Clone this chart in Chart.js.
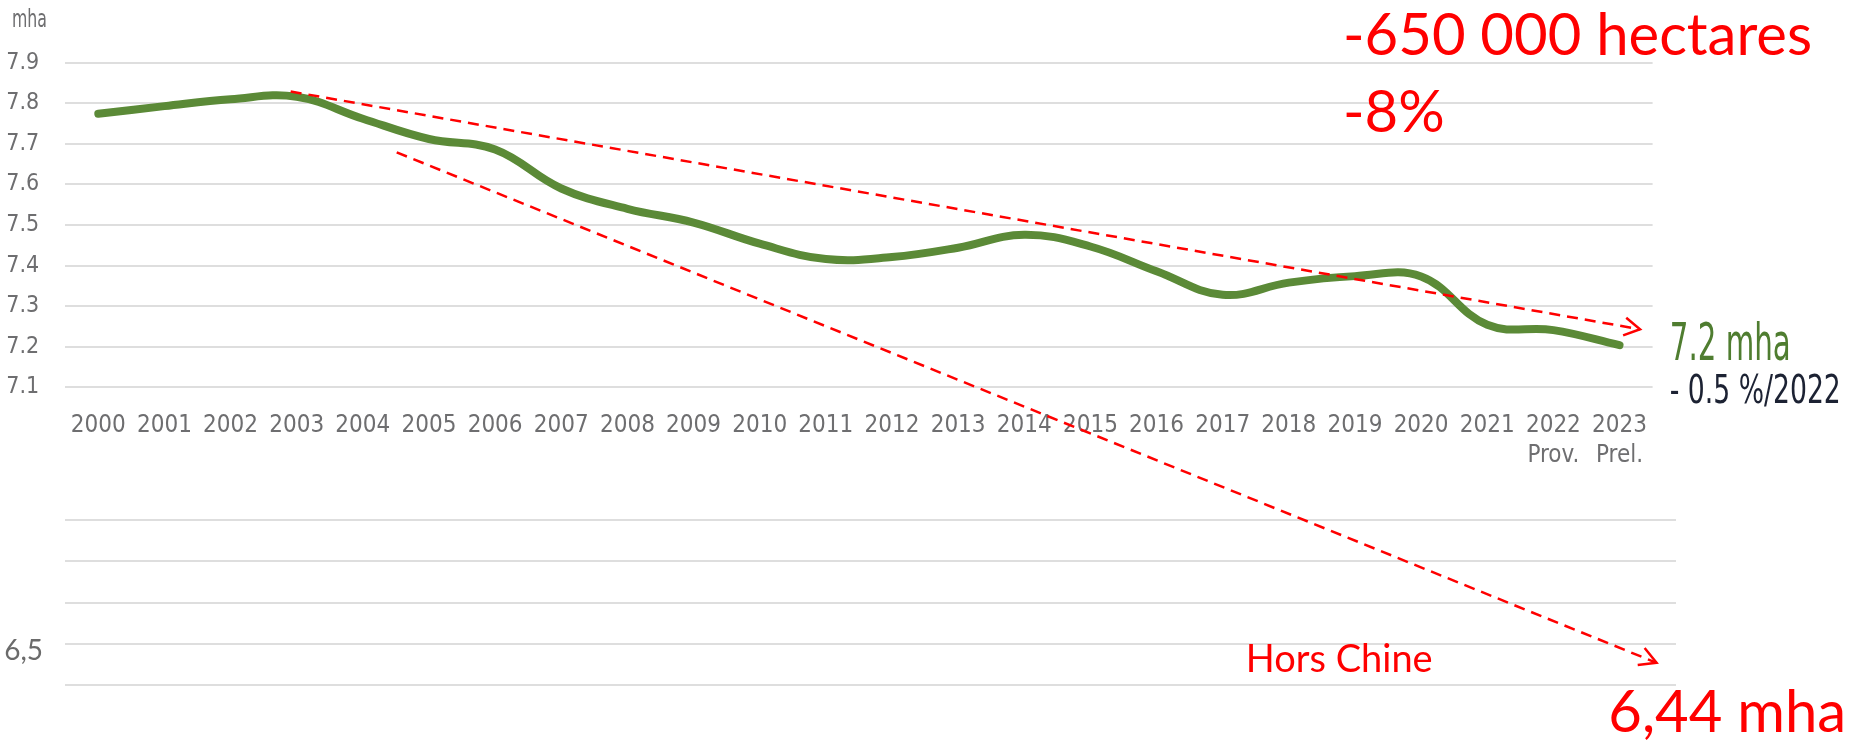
<!DOCTYPE html>
<html>
<head>
<meta charset="utf-8">
<script src="https://cdn.jsdelivr.net/npm/chart.js@4/dist/chart.umd.min.js"></script>
<style>
html, body { margin: 0; padding: 0; background: #ffffff; }
#wrap { position: relative; width: 1864px; height: 743px; overflow: hidden; }
#wrap canvas { position: absolute; left: 0; top: 0; }
</style>
</head>
<body>
<div id="wrap">
  <canvas id="low" width="1864" height="743"></canvas>
  <canvas id="main" width="1864" height="743"></canvas>
</div>
<script>
// ---------------- data ----------------
const years = ['2000','2001','2002','2003','2004','2005','2006','2007','2008','2009','2010','2011',
               '2012','2013','2014','2015','2016','2017','2018','2019','2020','2021','2022','2023'];
const yearNotes = ['','','','','','','','','','','','','','','','','','','','','','','Prov.','Prel.'];
const areaMha = [7.774, 7.793, 7.810, 7.816, 7.762, 7.712, 7.686, 7.590, 7.540, 7.506, 7.454, 7.416,
                 7.421, 7.444, 7.476, 7.447, 7.386, 7.328, 7.358, 7.374, 7.373, 7.254, 7.241, 7.204];
const yTicks = [7.1, 7.2, 7.3, 7.4, 7.5, 7.6, 7.7, 7.8, 7.9];
const yTickLabels = ['7.1', '7.2', '7.3', '7.4', '7.5', '7.6', '7.7', '7.8', '7.9'];
const lowTicks = [6.4, 6.5, 6.6, 6.7, 6.8];
const lowTickLabels = ['', '6,5', '', '', ''];
const unitLabel = 'mha';

// trend arrows, in (category index, mha)
const trendWorld = { from: [2.909, 7.829], to: [23.31, 7.243] };
const trendExChina = { from: [4.512, 7.679], to: [23.56, 6.421] };

// texts: [text, category index, mha (baseline)]
const redNotes = [
  ['-650 000 hectares', 18.82, 7.919],
  ['-8%', 18.82, 7.729],
  ['Hors Chine', 17.35, 6.398],
  ['6,44 mha', 22.83, 6.250]
];
const endLabel = ['7.2 mha', 23.76, 7.167];
const endChange = ['- 0.5 %/2022', 23.76, 7.061];

// ---------------- styles ----------------
const COND = "'Liberation Sans Narrow', 'DejaVu Sans Condensed', 'Roboto', sans-serif";
const GRID = '#dedede';
const TICK = '#6e6e70';
const GREEN = '#5b8a37';

const labels = years.map((y, i) => yearNotes[i] ? [y, yearNotes[i]] : y);

function drawText(ctx, text, x, y, font, color, scaleX) {
  ctx.save();
  ctx.font = font;
  ctx.fillStyle = color;
  ctx.textAlign = 'left';
  ctx.textBaseline = 'alphabetic';
  ctx.translate(x, y);
  ctx.scale(scaleX || 1, 1);
  ctx.fillText(text, 0, 0);
  ctx.restore();
}

function drawArrow(ctx, x1, y1, x2, y2, head, angleDeg) {
  ctx.save();
  ctx.strokeStyle = '#ff0000';
  ctx.lineWidth = 2.5;
  ctx.setLineDash([11, 7]);
  ctx.beginPath();
  ctx.moveTo(x1, y1);
  ctx.lineTo(x2, y2);
  ctx.stroke();
  ctx.setLineDash([]);
  const a = Math.atan2(y2 - y1, x2 - x1);
  const h = angleDeg * Math.PI / 180;
  ctx.beginPath();
  ctx.moveTo(x2 - head * Math.cos(a - h), y2 - head * Math.sin(a - h));
  ctx.lineTo(x2, y2);
  ctx.lineTo(x2 - head * Math.cos(a + h), y2 - head * Math.sin(a + h));
  ctx.stroke();
  ctx.restore();
}

const annotations = {
  id: 'annotations',
  afterDatasetsDraw(chart) {
    const ctx = chart.ctx;
    const xs = chart.scales.x, ys = chart.scales.y;
    const px = v => xs.getPixelForValue(v);
    const py = v => ys.getPixelForValue(v);

    // unit label
    ctx.save();
    ctx.font = '25px ' + COND;
    const wu = ctx.measureText(unitLabel).width;
    ctx.restore();
    drawText(ctx, unitLabel, px(-1.305), py(7.988), '25px ' + COND, TICK, 35 / wu);

    // arrows
    drawArrow(ctx, px(trendWorld.from[0]), py(trendWorld.from[1]), px(trendWorld.to[0]), py(trendWorld.to[1]), 18, 30);
    drawArrow(ctx, px(trendExChina.from[0]), py(trendExChina.from[1]), px(trendExChina.to[0]), py(trendExChina.to[1]), 19, 29);

    // red notes
    redNotes.forEach(([t, i, v]) => {
      const size = t === 'Hors Chine' ? 38 : 58;
      drawText(ctx, t, px(i), py(v), size + 'px Lato', '#ff0000', 1);
    });

    // end labels (condensed)
    ctx.save();
    ctx.font = '51px ' + COND;
    const w1 = ctx.measureText(endLabel[0]).width;
    ctx.font = '39px ' + COND;
    const w2 = ctx.measureText(endChange[0]).width;
    ctx.restore();
    drawText(ctx, endLabel[0], px(endLabel[1]), py(endLabel[2]), '51px ' + COND, '#4f7d30', 121 / w1);
    drawText(ctx, endChange[0], px(endChange[1]), py(endChange[2]), '39px ' + COND, '#1c2233', 171 / w2);
  }
};

// lower (extended) grid panel
new Chart(document.getElementById('low'), {
  type: 'line',
  data: { labels: labels, datasets: [] },
  options: {
    responsive: false,
    animation: false,
    devicePixelRatio: 1,
    layout: { padding: { top: 520, right: 188, bottom: 58, left: 0 } },
    plugins: { legend: { display: false }, tooltip: { enabled: false } },
    scales: {
      x: { display: false },
      y: {
        min: 6.4, max: 6.8,
        afterBuildTicks: s => { s.ticks = lowTicks.map(v => ({ value: v })); },
        afterFit: s => { s.width = 65; },
        border: { display: false },
        grid: { color: GRID, lineWidth: 2, drawTicks: false },
        ticks: {
          callback: (v, i) => lowTickLabels[i],
          color: '#6b6b6b',
          font: { family: 'Lato', size: 28 },
          padding: 22,
          labelOffset: 7
        }
      }
    }
  }
});

// main chart
new Chart(document.getElementById('main'), {
  type: 'line',
  data: {
    labels: labels,
    datasets: [{
      data: areaMha,
      borderColor: GREEN,
      borderWidth: 8,
      tension: 0.4,
      pointRadius: 0,
      fill: false,
      borderCapStyle: 'round',
      borderJoinStyle: 'round',
      clip: false
    }]
  },
  options: {
    responsive: false,
    animation: false,
    devicePixelRatio: 1,
    layout: { padding: { top: 62.7, right: 211.4, bottom: 0, left: 0 } },
    plugins: { legend: { display: false }, tooltip: { enabled: false } },
    scales: {
      x: {
        type: 'category',
        offset: true,
        afterFit: s => { s.height = 743 - 387.3; },
        border: { display: false },
        grid: { display: false, drawTicks: false },
        ticks: {
          color: TICK,
          font: { family: COND, size: 24, lineHeight: 1.27 },
          padding: 23,
          maxRotation: 0,
          autoSkip: false
        }
      },
      y: {
        min: 7.1, max: 7.9,
        afterBuildTicks: s => { s.ticks = yTicks.map(v => ({ value: v })); },
        afterFit: s => { s.width = 65.2; },
        border: { display: false },
        grid: { color: GRID, lineWidth: 2, drawTicks: false },
        ticks: {
          callback: (v, i) => yTickLabels[i],
          color: TICK,
          font: { family: COND, size: 23 },
          padding: 26
        }
      }
    }
  },
  plugins: [annotations]
});
</script>
</body>
</html>
